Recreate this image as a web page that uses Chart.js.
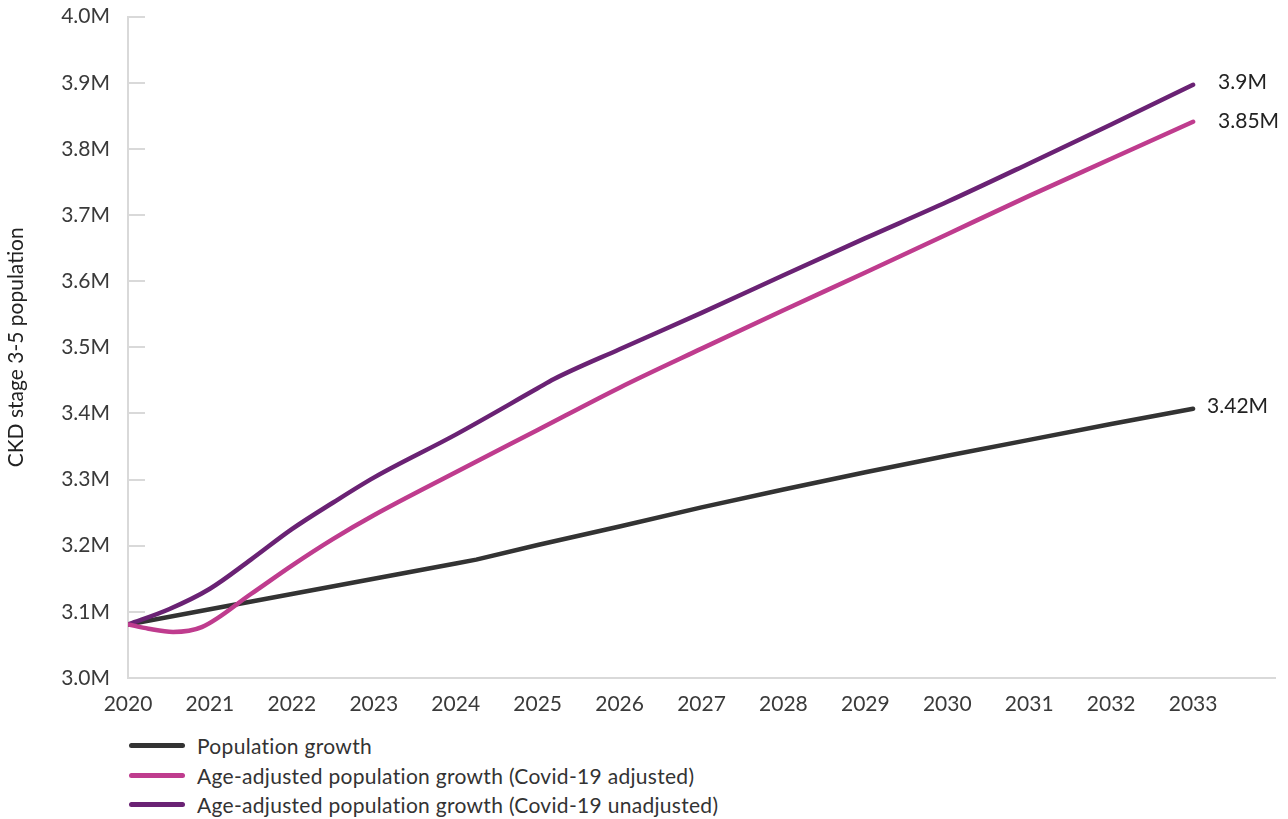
<!DOCTYPE html>
<html><head><meta charset="utf-8">
<script src="https://cdn.jsdelivr.net/npm/chart.js@4.4.1/dist/chart.umd.min.js"></script>
<style>
html,body{margin:0;padding:0;background:#fff;}
#wrap{position:relative;width:1288px;height:819px;overflow:hidden;}
#c{position:absolute;left:0;top:-14px;}
#legend{position:absolute;left:129px;top:731px;font-family:Lato,sans-serif;font-weight:400;font-size:21px;letter-spacing:0.3px;color:#333;}
.row{display:flex;align-items:center;height:29.5px;white-space:nowrap;}
.sw{width:56px;height:5px;border-radius:3px;margin-right:12px;flex:none;}
</style></head>
<body><div id="wrap"><canvas id="c" width="1288" height="744"></canvas><div id="legend"></div></div>
<script>
// ---- data ----
const seriesNames = [
  'Population growth',
  'Age-adjusted population growth (Covid-19 adjusted)',
  'Age-adjusted population growth (Covid-19 unadjusted)'
];
const endLabels = ['3.42M', '3.85M', '3.9M'];

const popYears  = [2020, 2021, 2022, 2023, 2024, 2024.25, 2025, 2026, 2027, 2028, 2029, 2030, 2031, 2032, 2033];
const popValues = [3.081, 3.104, 3.127, 3.150, 3.173, 3.179, 3.201, 3.229, 3.258, 3.285, 3.311, 3.336, 3.360, 3.384, 3.407];

const adjYears  = [2020, 2020.25, 2020.55, 2020.9, 2021.5, 2022, 2022.5, 2023, 2024, 2025, 2026, 2027, 2028, 2029, 2030, 2031, 2032, 2033];
const adjValues = [3.081, 3.0745, 3.0697, 3.077, 3.127, 3.170, 3.210, 3.246, 3.311, 3.375, 3.439, 3.498, 3.556, 3.613, 3.671, 3.729, 3.785, 3.841];

const unadjYears  = [2020, 2020.5, 2021, 2021.5, 2022, 2022.5, 2023, 2024, 2025, 2025.2, 2026, 2027, 2028, 2029, 2030, 2031, 2032, 2033];
const unadjValues = [3.081, 3.104, 3.135, 3.179, 3.225, 3.265, 3.303, 3.368, 3.438, 3.452, 3.497, 3.552, 3.609, 3.665, 3.720, 3.778, 3.837, 3.897];

const xTickYears = [2020, 2021, 2022, 2023, 2024, 2025, 2026, 2027, 2028, 2029, 2030, 2031, 2032, 2033];
const yTickValues = [3.0, 3.1, 3.2, 3.3, 3.4, 3.5, 3.6, 3.7, 3.8, 3.9, 4.0];

// ---- styles ----
const colors = ['#333333', '#BF3C8E', '#6A2274'];
const labelOffsets = [[14, -3], [25, -1], [25, -2]];
const FONT = 'Lato, sans-serif';
const TEXT = '#3a3a3a';
const AXIS = '#d9d9d9';

function pts(xs, ys) { return xs.map((x, i) => ({x: x, y: ys[i]})); }

const innerTicks = {
  id: 'innerTicks',
  beforeDatasetsDraw(chart) {
    const y = chart.scales.y, ctx = chart.ctx, left = chart.chartArea.left;
    ctx.save();
    ctx.strokeStyle = AXIS; ctx.lineWidth = 2;
    yTickValues.forEach(v => {
      const py = Math.round(y.getPixelForValue(v));
      ctx.beginPath(); ctx.moveTo(left, py); ctx.lineTo(left + 17, py); ctx.stroke();
    });
    ctx.restore();
  }
};

const endLabelPlugin = {
  id: 'endLabels',
  afterDatasetsDraw(chart) {
    const ctx = chart.ctx;
    ctx.save();
    ctx.font = '400 21px ' + FONT;
    ctx.fillStyle = '#222';
    ctx.textAlign = 'left'; ctx.textBaseline = 'middle';
    chart.data.datasets.forEach((ds, i) => {
      const meta = chart.getDatasetMeta(i);
      const p = meta.data[meta.data.length - 1];
      ctx.fillText(endLabels[i], p.x + labelOffsets[i][0], p.y + labelOffsets[i][1]);
    });
    ctx.restore();
  }
};

const allValues = [[popYears, popValues], [adjYears, adjValues], [unadjYears, unadjValues]];
const orders = [3, 1, 2];
const interp = ['default', 'monotone', 'monotone'];

new Chart(document.getElementById('c'), {
  type: 'line',
  data: {
    datasets: allValues.map((s, i) => ({
      label: seriesNames[i],
      data: pts(s[0], s[1]),
      borderColor: colors[i],
      backgroundColor: colors[i],
      borderWidth: 4.5,
      borderCapStyle: 'round',
      borderJoinStyle: 'round',
      pointRadius: 0,
      tension: i === 0 ? 0 : 0.4,
      cubicInterpolationMode: interp[i],
      order: orders[i],
      fill: false
    }))
  },
  options: {
    responsive: false,
    animation: false,
    devicePixelRatio: 1,
    layout: {padding: {left: 0, right: 13, top: 4, bottom: 0}},
    plugins: {legend: {display: false}, tooltip: {enabled: false}},
    scales: {
      x: {
        type: 'linear', min: 2020, max: 2034,
        afterFit: s => { s.height = 52; },
        afterBuildTicks: s => { s.ticks = xTickYears.map(v => ({value: v})); },
        ticks: {
          autoSkip: false, maxRotation: 0, padding: 14,
          color: TEXT, font: {family: FONT, size: 21, weight: 400},
          callback: v => String(v)
        },
        grid: {display: false, drawTicks: false},
        border: {display: true, color: AXIS, width: 2}
      },
      y: {
        min: 3.0, max: 4.0,
        afterFit: s => { s.width = 128; },
        afterBuildTicks: s => { s.ticks = yTickValues.map(v => ({value: v})); },
        ticks: {
          padding: 18, color: TEXT, font: {family: FONT, size: 21, weight: 400},
          callback: v => v.toFixed(1) + 'M'
        },
        grid: {display: false, drawTicks: false},
        border: {display: true, color: AXIS, width: 2},
        title: {display: true, text: 'CKD stage 3-5 population', color: '#222',
                font: {family: FONT, size: 21, weight: 400}, padding: {top: 4, bottom: 0}}
      }
    }
  },
  plugins: [innerTicks, endLabelPlugin]
});

const leg = document.getElementById('legend');
seriesNames.forEach((n, i) => {
  const r = document.createElement('div'); r.className = 'row';
  const sw = document.createElement('span'); sw.className = 'sw'; sw.style.background = colors[i];
  const t = document.createElement('span'); t.textContent = n;
  r.appendChild(sw); r.appendChild(t); leg.appendChild(r);
});
</script>
</body></html>
